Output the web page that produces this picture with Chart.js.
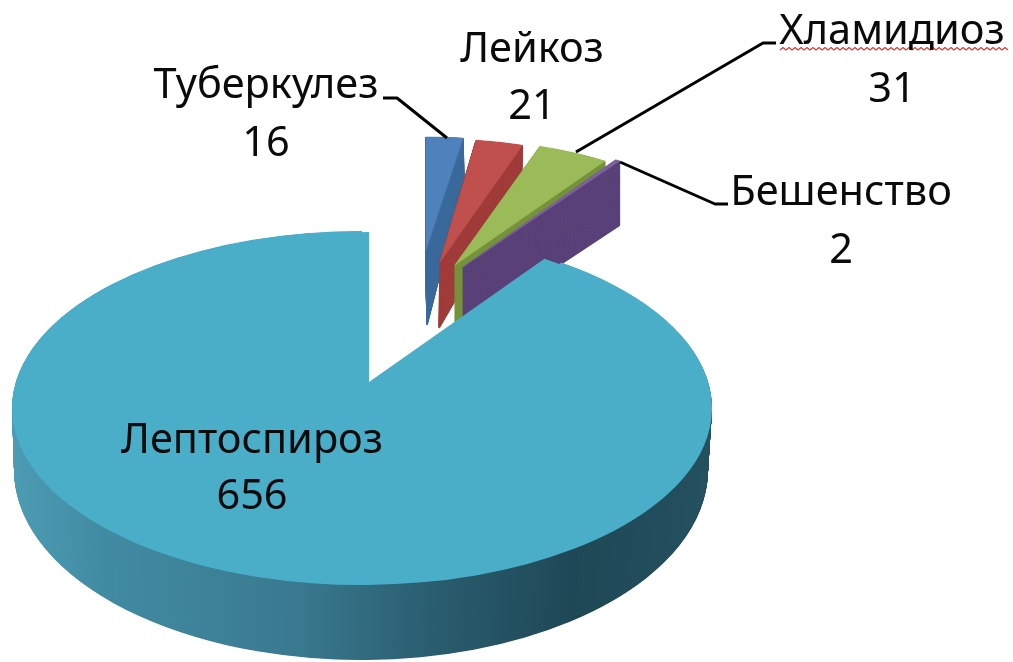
<!DOCTYPE html>
<html><head><meta charset="utf-8">
<style>html,body{margin:0;padding:0;background:#fff}canvas{display:block}</style>
<script src="https://cdn.jsdelivr.net/npm/chart.js@4"></script>
</head><body><canvas id="c" width="1013" height="662"></canvas>
<script>
const categories = ['Туберкулез','Лейкоз','Хламидиоз','Бешенство','Лептоспироз'];
const values = [16,21,31,2,656];
const topColors = ['#4f81bd','#c0504d','#9bbb59','#7d62a0','#4aaec9'];
const wallColors = ['#3b6a9c','#a03c3a','#76923c','#5a4279',null];

// projection of each slice: apex/centre x,y and horizontal/vertical radii of the tilted circle
const PIE_R = 350;
const topViews = [
  {x:426,y:250,rx:268,ry:113},
  {x:440,y:262,rx:262,ry:123},
  {x:455,y:265,rx:270,ry:125},
  {x:463,y:267,rx:275,ry:129},
  {x:362,y:408,rx:350,ry:177}
];
const bottomViews = [
  {x:427,y:325,rx:268,ry:146},
  {x:439,y:328,rx:262,ry:149},
  {x:455,y:325,rx:270,ry:135},
  {x:463,y:329,rx:275,ry:126},
  {x:361,y:470,rx:347,ry:190}
];
const notchView = {x:369,y:382,rx:308,ry:150};
const wallStops = [[0,'#4c9cb4'],[0.13,'#418ba2'],[0.4,'#3a7a90'],[0.6,'#2a5d70'],[0.8,'#1f4856'],[1,'#24505f']];

const labelPos = [[266,98,156],[532,62,119],[892,44,102],[841,205,263],[252,453,509]];
const leaders = [
  [[383,98],[397,98],[447,138]],
  [[776,43],[763,43],[576,152]],
  [[728,204],[715,204],[620,162]]
];

function drawArc(ctx, arc, v, fill, edge){
  const saved = arc.options;
  arc.options = Object.assign({}, saved, {backgroundColor: fill, borderColor: fill, borderWidth: edge || 0});
  ctx.save();
  ctx.translate(v.x, v.y);
  ctx.scale(v.rx/PIE_R, v.ry/PIE_R);
  ctx.translate(-arc.x, -arc.y);
  arc.draw(ctx);
  ctx.restore();
  arc.options = saved;
}

const pie3d = {
  id:'pie3d',
  beforeDatasetsDraw(chart){
    const ctx = chart.ctx;
    const arcs = chart.getDatasetMeta(0).data;
    arcs.forEach((arc,i)=>{
      const a = topViews[i], b = bottomViews[i];
      let fill = wallColors[i];
      if(!fill){
        const g = ctx.createLinearGradient(arc.x-PIE_R,0,arc.x+PIE_R,0);
        wallStops.forEach(s=>g.addColorStop(s[0],s[1]));
        fill = g;
      }
      const n = Math.round(b.y-a.y)*2;
      for(let k=n;k>0;k--){
        const t=k/n;
        drawArc(ctx,arc,{x:a.x+(b.x-a.x)*t,y:a.y+(b.y-a.y)*t,rx:a.rx+(b.rx-a.rx)*t,ry:a.ry+(b.ry-a.ry)*t},fill,wallColors[i]?2:0);
      }
      drawArc(ctx,arc,a,topColors[i],wallColors[i]?1:0);
      if(i===arcs.length-1) drawArc(ctx,arc,notchView,topColors[i]);
    });
    return false;
  },
  afterDraw(chart){
    const ctx = chart.ctx;
    ctx.save();
    ctx.strokeStyle='#000';ctx.lineWidth=3;ctx.lineJoin='round';
    leaders.forEach(l=>{ctx.beginPath();l.forEach((p,i)=>i?ctx.lineTo(p[0],p[1]):ctx.moveTo(p[0],p[1]));ctx.stroke();});
    // spell-check underline
    ctx.strokeStyle='#d83a3a';ctx.lineWidth=1.2;ctx.beginPath();
    for(let x=780,u=0;x<=1009;x+=3,u++){const y=u%2?47.5:50;u?ctx.lineTo(x,y):ctx.moveTo(x,y);}
    ctx.stroke();
    ctx.fillStyle='#0a0a0a';ctx.textAlign='center';ctx.textBaseline='alphabetic';
    ctx.font='41.5px "Noto Sans", sans-serif';
    categories.forEach((c,i)=>{
      const p=labelPos[i];
      ctx.fillText(c,p[0],p[1]);
      ctx.fillText(String(values[i]),p[0],p[2]);
    });
    ctx.restore();
  }
};

new Chart(document.getElementById('c'),{
  type:'pie',
  data:{labels:categories,datasets:[{data:values,backgroundColor:topColors,borderWidth:0}]},
  options:{
    responsive:false,animation:false,events:[],radius:PIE_R,
    layout:{padding:0},
    plugins:{legend:{display:false},tooltip:{enabled:false},title:{display:false}}
  },
  plugins:[pie3d]
});
</script></body></html>
